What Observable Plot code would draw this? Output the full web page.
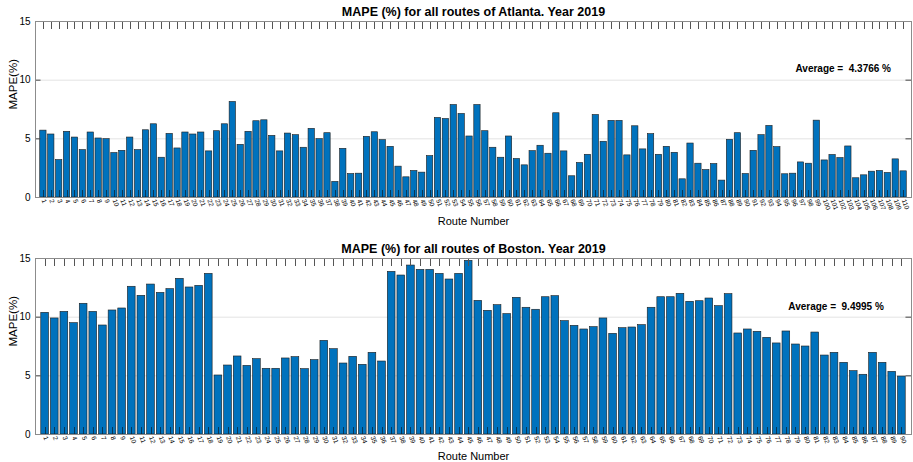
<!DOCTYPE html>
<html><head><meta charset="utf-8">
<script src="https://cdn.jsdelivr.net/npm/d3@7"></script>
<script src="https://cdn.jsdelivr.net/npm/@observablehq/plot@0.6"></script>
<style>body{margin:0;background:#fff;} svg{display:block;}</style>
</head><body><div id="c"></div>
<script>
const atlantaMAPE = [
  5.70,5.37,3.19,5.60,5.11,4.04,5.54,5.03,4.97,3.79,
  3.98,5.11,4.04,5.73,6.24,3.39,5.42,4.18,5.54,5.37,
  5.54,3.93,5.65,6.24,8.14,4.49,5.60,6.50,6.58,5.25,
  3.93,5.45,5.31,4.24,5.85,4.97,5.48,1.33,4.15,2.00,
  2.03,5.17,5.56,4.89,4.32,2.63,1.72,2.26,2.12,3.53,
  6.78,6.69,7.88,7.12,5.20,7.88,5.65,4.24,3.39,5.20,
  3.28,2.74,3.95,4.41,3.73,7.18,3.93,1.81,2.94,3.64,
  7.03,4.75,6.53,6.53,3.59,6.07,4.10,5.40,3.64,4.32,
  3.81,1.55,4.60,2.88,2.34,2.85,1.44,4.92,5.48,2.00,
  3.98,5.31,6.10,4.29,1.98,2.03,2.99,2.88,6.55,3.16,
  3.62,3.36,4.35,1.64,1.89,2.20,2.26,2.09,3.25,2.23
];
const bostonMAPE = [
  10.37,9.89,10.45,9.49,11.14,10.45,9.29,10.57,10.74,12.59,
  11.82,12.78,12.07,12.39,13.27,12.53,12.67,13.69,5.03,5.88,
  6.65,5.85,6.42,5.60,5.60,6.48,6.59,5.57,6.34,7.98,
  7.27,6.05,6.62,5.94,6.96,6.22,13.86,13.55,14.40,14.03,
  14.03,13.69,13.21,13.69,14.80,11.39,10.54,11.02,10.26,11.65,
  10.80,10.63,11.70,11.79,9.66,9.26,8.95,9.15,9.89,8.58,
  9.06,9.12,9.32,10.80,11.70,11.70,11.99,11.31,11.36,11.59,
  10.94,11.96,8.61,8.95,8.75,8.24,7.76,8.78,7.67,7.50,
  8.69,6.73,6.96,6.11,5.40,5.09,6.96,6.11,5.34,4.94
];
const atlantaRoutes = d3.range(1, atlantaMAPE.length + 1);
const bostonRoutes = d3.range(1, bostonMAPE.length + 1);
const atlantaTitle = "MAPE (%) for all routes of Atlanta. Year 2019";
const bostonTitle = "MAPE (%) for all routes of Boston. Year 2019";
const atlantaAverage = "Average =  4.3766 %";
const bostonAverage = "Average =  9.4995 %";
const yTicks = [0, 5, 10, 15];
const yLabel = "MAPE(%)";
const xLabel = "Route Number";

function panel({routes, values, title, avgText, avgX, avgY, marginTop, marginBottom, titleDy, xlabelDy}) {
  const W = 913, H = 231, mL = 35, mR = 2;
  const data = routes.map((r, i) => ({route: r, mape: values[i]}));
  const xMax = routes.length + 1;
  const yTickLen = 0.7 * xMax / 111;
  return Plot.plot({
    width: W, height: H, marginLeft: mL, marginRight: mR, marginTop, marginBottom,
    style: {fontFamily: "'Liberation Sans', Arial, Helvetica, sans-serif", background: "white", color: "black", overflow: "visible"},
    x: {domain: [0, xMax]},
    y: {domain: [0, 15]},
    marks: [
      Plot.ruleY([5, 10], {stroke: "#e3e3e3"}),
      Plot.rectY(data, {x1: d => d.route - 0.4, x2: d => d.route + 0.4, y1: 0, y2: "mape", fill: "#0072BD", stroke: "#1c1c1c", strokeWidth: 0.6}),
      Plot.ruleX(routes, {x: d => d, y1: 0, y2: 0.6, stroke: "#111", strokeOpacity: 0.6, shapeRendering: "crispEdges"}),
      Plot.ruleX(routes, {x: d => d, y1: 14.3, y2: 15, stroke: "#555", strokeWidth: 1, shapeRendering: "crispEdges"}),
      Plot.ruleY(yTicks, {y: d => d, x1: 0, x2: yTickLen, stroke: "#444"}),
      Plot.ruleY(yTicks, {y: d => d, x1: xMax - yTickLen, x2: xMax, stroke: "#444"}),
      Plot.frame({stroke: "#8c8c8c"}),
      Plot.axisX({ticks: routes, tickFormat: d => String(d), tickRotate: 70, tickSize: 0, tickPadding: 2, fontSize: 6.5, label: null}),
      Plot.axisY({ticks: yTicks, tickSize: 0, tickPadding: 5, fontSize: 10, label: null}),
      Plot.text([title], {frameAnchor: "top", dy: titleDy, lineAnchor: "middle", fontWeight: "bold", fontSize: 12.5}),
      Plot.text([xLabel], {frameAnchor: "bottom", dy: xlabelDy, lineAnchor: "middle", fontSize: 11}),
      Plot.text([yLabel], {frameAnchor: "left", dx: -22, rotate: -90, lineAnchor: "middle", fontSize: 11.5}),
      Plot.text([avgText], {x: avgX, y: avgY, textAnchor: "start", lineAnchor: "middle", fontWeight: "bold", fontSize: 10})
    ]
  });
}

const c = document.getElementById("c");
c.appendChild(panel({routes: atlantaRoutes, values: atlantaMAPE, title: atlantaTitle, avgText: atlantaAverage,
  avgX: 96.3, avgY: 11, marginTop: 21, marginBottom: 34, titleDy: -10, xlabelDy: 24}));
c.appendChild(panel({routes: bostonRoutes, values: bostonMAPE, title: bostonTitle, avgText: bostonAverage,
  avgX: 78.2, avgY: 10.9, marginTop: 27, marginBottom: 28, titleDy: -10, xlabelDy: 22}));
</script></body></html>
